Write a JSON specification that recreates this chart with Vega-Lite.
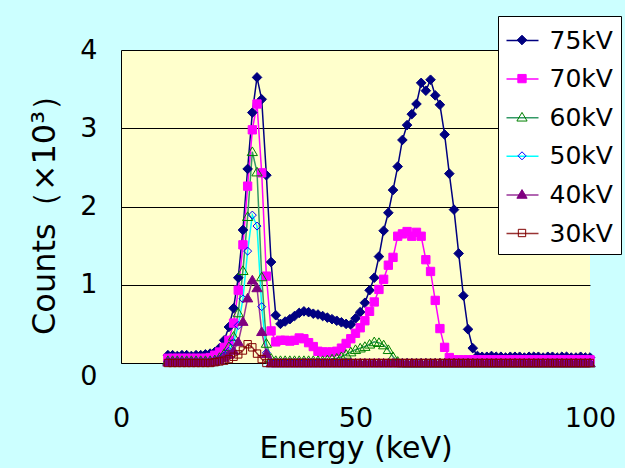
{
"$schema":"https://vega.github.io/schema/vega-lite/v6.json",
"width":469,"height":313,
"autosize":{"type":"none"},
"padding":{"left":121,"top":50,"right":35,"bottom":105},
"background":"#CCFFFF",
"config":{"view":{"fill":"#FFFFCC","stroke":null},"font":"DejaVu Sans"},
"data":{"values":[
{"e":10,"s":"75kV","c":0.10},{"e":11,"s":"75kV","c":0.10},{"e":12,"s":"75kV","c":0.09},{"e":13,"s":"75kV","c":0.10},{"e":14,"s":"75kV","c":0.10},{"e":15,"s":"75kV","c":0.09},{"e":16,"s":"75kV","c":0.10},{"e":17,"s":"75kV","c":0.10},{"e":18,"s":"75kV","c":0.11},{"e":19,"s":"75kV","c":0.12},
{"e":20,"s":"75kV","c":0.14},{"e":21,"s":"75kV","c":0.19},{"e":22,"s":"75kV","c":0.29},{"e":23,"s":"75kV","c":0.46},{"e":24,"s":"75kV","c":0.70},{"e":25,"s":"75kV","c":1.09},{"e":26,"s":"75kV","c":1.70},{"e":27,"s":"75kV","c":2.48},{"e":28,"s":"75kV","c":3.20},{"e":29,"s":"75kV","c":3.65},
{"e":30,"s":"75kV","c":3.37},{"e":31,"s":"75kV","c":2.40},{"e":32,"s":"75kV","c":1.29},{"e":33,"s":"75kV","c":0.61},{"e":34,"s":"75kV","c":0.50},{"e":35,"s":"75kV","c":0.53},{"e":36,"s":"75kV","c":0.56},{"e":37,"s":"75kV","c":0.60},{"e":38,"s":"75kV","c":0.64},{"e":39,"s":"75kV","c":0.66},
{"e":40,"s":"75kV","c":0.65},{"e":41,"s":"75kV","c":0.63},{"e":42,"s":"75kV","c":0.62},{"e":43,"s":"75kV","c":0.60},{"e":44,"s":"75kV","c":0.58},{"e":45,"s":"75kV","c":0.56},{"e":46,"s":"75kV","c":0.54},{"e":47,"s":"75kV","c":0.52},{"e":48,"s":"75kV","c":0.50},{"e":49,"s":"75kV","c":0.49},
{"e":50,"s":"75kV","c":0.57},{"e":51,"s":"75kV","c":0.65},{"e":52,"s":"75kV","c":0.77},{"e":53,"s":"75kV","c":0.93},{"e":54,"s":"75kV","c":1.09},{"e":55,"s":"75kV","c":1.36},{"e":56,"s":"75kV","c":1.69},{"e":57,"s":"75kV","c":1.92},{"e":58,"s":"75kV","c":2.21},{"e":59,"s":"75kV","c":2.51},
{"e":60,"s":"75kV","c":2.85},{"e":61,"s":"75kV","c":3.04},{"e":62,"s":"75kV","c":3.18},{"e":63,"s":"75kV","c":3.31},{"e":64,"s":"75kV","c":3.58},{"e":65,"s":"75kV","c":3.48},{"e":66,"s":"75kV","c":3.62},{"e":67,"s":"75kV","c":3.42},{"e":68,"s":"75kV","c":3.30},{"e":69,"s":"75kV","c":2.92},
{"e":70,"s":"75kV","c":2.42},{"e":71,"s":"75kV","c":1.96},{"e":72,"s":"75kV","c":1.40},{"e":73,"s":"75kV","c":0.86},{"e":74,"s":"75kV","c":0.43},{"e":75,"s":"75kV","c":0.19},{"e":76,"s":"75kV","c":0.09},{"e":77,"s":"75kV","c":0.08},{"e":78,"s":"75kV","c":0.08},{"e":79,"s":"75kV","c":0.09},
{"e":80,"s":"75kV","c":0.08},{"e":81,"s":"75kV","c":0.08},{"e":82,"s":"75kV","c":0.07},{"e":83,"s":"75kV","c":0.08},{"e":84,"s":"75kV","c":0.08},{"e":85,"s":"75kV","c":0.08},{"e":86,"s":"75kV","c":0.07},{"e":87,"s":"75kV","c":0.08},{"e":88,"s":"75kV","c":0.08},{"e":89,"s":"75kV","c":0.08},
{"e":90,"s":"75kV","c":0.07},{"e":91,"s":"75kV","c":0.08},{"e":92,"s":"75kV","c":0.08},{"e":93,"s":"75kV","c":0.07},{"e":94,"s":"75kV","c":0.08},{"e":95,"s":"75kV","c":0.08},{"e":96,"s":"75kV","c":0.07},{"e":97,"s":"75kV","c":0.07},{"e":98,"s":"75kV","c":0.08},{"e":99,"s":"75kV","c":0.07},{"e":100,"s":"75kV","c":0.07},
{"e":10,"s":"70kV","c":0.06},{"e":11,"s":"70kV","c":0.06},{"e":12,"s":"70kV","c":0.06},{"e":13,"s":"70kV","c":0.06},{"e":14,"s":"70kV","c":0.06},{"e":15,"s":"70kV","c":0.06},{"e":16,"s":"70kV","c":0.06},{"e":17,"s":"70kV","c":0.06},{"e":18,"s":"70kV","c":0.06},{"e":19,"s":"70kV","c":0.07},
{"e":20,"s":"70kV","c":0.10},{"e":21,"s":"70kV","c":0.14},{"e":22,"s":"70kV","c":0.20},{"e":23,"s":"70kV","c":0.29},{"e":24,"s":"70kV","c":0.51},{"e":25,"s":"70kV","c":0.93},{"e":26,"s":"70kV","c":1.51},{"e":27,"s":"70kV","c":2.26},{"e":28,"s":"70kV","c":2.98},{"e":29,"s":"70kV","c":3.31},
{"e":30,"s":"70kV","c":2.43},{"e":31,"s":"70kV","c":1.11},{"e":32,"s":"70kV","c":0.41},{"e":33,"s":"70kV","c":0.27},{"e":34,"s":"70kV","c":0.29},{"e":35,"s":"70kV","c":0.29},{"e":36,"s":"70kV","c":0.28},{"e":37,"s":"70kV","c":0.29},{"e":38,"s":"70kV","c":0.32},{"e":39,"s":"70kV","c":0.31},
{"e":40,"s":"70kV","c":0.26},{"e":41,"s":"70kV","c":0.21},{"e":42,"s":"70kV","c":0.15},{"e":43,"s":"70kV","c":0.14},{"e":44,"s":"70kV","c":0.14},{"e":45,"s":"70kV","c":0.14},{"e":46,"s":"70kV","c":0.15},{"e":47,"s":"70kV","c":0.19},{"e":48,"s":"70kV","c":0.25},{"e":49,"s":"70kV","c":0.31},
{"e":50,"s":"70kV","c":0.38},{"e":51,"s":"70kV","c":0.45},{"e":52,"s":"70kV","c":0.54},{"e":53,"s":"70kV","c":0.66},{"e":54,"s":"70kV","c":0.78},{"e":55,"s":"70kV","c":0.94},{"e":56,"s":"70kV","c":1.07},{"e":57,"s":"70kV","c":1.25},{"e":58,"s":"70kV","c":1.35},{"e":59,"s":"70kV","c":1.62},
{"e":60,"s":"70kV","c":1.65},{"e":61,"s":"70kV","c":1.68},{"e":62,"s":"70kV","c":1.62},{"e":63,"s":"70kV","c":1.67},{"e":64,"s":"70kV","c":1.62},{"e":65,"s":"70kV","c":1.32},{"e":66,"s":"70kV","c":1.17},{"e":67,"s":"70kV","c":0.80},{"e":68,"s":"70kV","c":0.44},{"e":69,"s":"70kV","c":0.20},
{"e":70,"s":"70kV","c":0.07},{"e":71,"s":"70kV","c":0.04},{"e":72,"s":"70kV","c":0.04},{"e":73,"s":"70kV","c":0.04},{"e":74,"s":"70kV","c":0.04},{"e":75,"s":"70kV","c":0.04},{"e":76,"s":"70kV","c":0.04},{"e":77,"s":"70kV","c":0.04},{"e":78,"s":"70kV","c":0.04},{"e":79,"s":"70kV","c":0.04},
{"e":80,"s":"70kV","c":0.04},{"e":81,"s":"70kV","c":0.04},{"e":82,"s":"70kV","c":0.04},{"e":83,"s":"70kV","c":0.04},{"e":84,"s":"70kV","c":0.04},{"e":85,"s":"70kV","c":0.04},{"e":86,"s":"70kV","c":0.04},{"e":87,"s":"70kV","c":0.04},{"e":88,"s":"70kV","c":0.04},{"e":89,"s":"70kV","c":0.04},
{"e":90,"s":"70kV","c":0.04},{"e":91,"s":"70kV","c":0.04},{"e":92,"s":"70kV","c":0.04},{"e":93,"s":"70kV","c":0.04},{"e":94,"s":"70kV","c":0.04},{"e":95,"s":"70kV","c":0.04},{"e":96,"s":"70kV","c":0.04},{"e":97,"s":"70kV","c":0.04},{"e":98,"s":"70kV","c":0.04},{"e":99,"s":"70kV","c":0.04},{"e":100,"s":"70kV","c":0.04},
{"e":10,"s":"60kV","c":0.03},{"e":11,"s":"60kV","c":0.03},{"e":12,"s":"60kV","c":0.03},{"e":13,"s":"60kV","c":0.03},{"e":14,"s":"60kV","c":0.03},{"e":15,"s":"60kV","c":0.03},{"e":16,"s":"60kV","c":0.03},{"e":17,"s":"60kV","c":0.03},{"e":18,"s":"60kV","c":0.03},{"e":19,"s":"60kV","c":0.03},
{"e":20,"s":"60kV","c":0.04},{"e":21,"s":"60kV","c":0.07},{"e":22,"s":"60kV","c":0.12},{"e":23,"s":"60kV","c":0.21},{"e":24,"s":"60kV","c":0.34},{"e":25,"s":"60kV","c":0.64},{"e":26,"s":"60kV","c":1.18},{"e":27,"s":"60kV","c":1.87},{"e":28,"s":"60kV","c":2.70},{"e":29,"s":"60kV","c":2.44},
{"e":30,"s":"60kV","c":1.10},{"e":31,"s":"60kV","c":0.25},{"e":32,"s":"60kV","c":0.06},{"e":33,"s":"60kV","c":0.03},{"e":34,"s":"60kV","c":0.03},{"e":35,"s":"60kV","c":0.03},{"e":36,"s":"60kV","c":0.03},{"e":37,"s":"60kV","c":0.03},{"e":38,"s":"60kV","c":0.03},{"e":39,"s":"60kV","c":0.03},
{"e":40,"s":"60kV","c":0.03},{"e":41,"s":"60kV","c":0.03},{"e":42,"s":"60kV","c":0.03},{"e":43,"s":"60kV","c":0.03},{"e":44,"s":"60kV","c":0.04},{"e":45,"s":"60kV","c":0.05},{"e":46,"s":"60kV","c":0.06},{"e":47,"s":"60kV","c":0.08},{"e":48,"s":"60kV","c":0.11},{"e":49,"s":"60kV","c":0.14},
{"e":50,"s":"60kV","c":0.17},{"e":51,"s":"60kV","c":0.19},{"e":52,"s":"60kV","c":0.21},{"e":53,"s":"60kV","c":0.24},{"e":54,"s":"60kV","c":0.27},{"e":55,"s":"60kV","c":0.26},{"e":56,"s":"60kV","c":0.23},{"e":57,"s":"60kV","c":0.17},{"e":58,"s":"60kV","c":0.08},{"e":59,"s":"60kV","c":0.02},
{"e":60,"s":"60kV","c":0},{"e":61,"s":"60kV","c":0},{"e":62,"s":"60kV","c":0},{"e":63,"s":"60kV","c":0},{"e":64,"s":"60kV","c":0},{"e":65,"s":"60kV","c":0},{"e":66,"s":"60kV","c":0},{"e":67,"s":"60kV","c":0},{"e":68,"s":"60kV","c":0},{"e":69,"s":"60kV","c":0},
{"e":70,"s":"60kV","c":0},{"e":71,"s":"60kV","c":0},{"e":72,"s":"60kV","c":0},{"e":73,"s":"60kV","c":0},{"e":74,"s":"60kV","c":0},{"e":75,"s":"60kV","c":0},{"e":76,"s":"60kV","c":0},{"e":77,"s":"60kV","c":0},{"e":78,"s":"60kV","c":0},{"e":79,"s":"60kV","c":0},
{"e":80,"s":"60kV","c":0},{"e":81,"s":"60kV","c":0},{"e":82,"s":"60kV","c":0},{"e":83,"s":"60kV","c":0},{"e":84,"s":"60kV","c":0},{"e":85,"s":"60kV","c":0},{"e":86,"s":"60kV","c":0},{"e":87,"s":"60kV","c":0},{"e":88,"s":"60kV","c":0},{"e":89,"s":"60kV","c":0},
{"e":90,"s":"60kV","c":0},{"e":91,"s":"60kV","c":0},{"e":92,"s":"60kV","c":0},{"e":93,"s":"60kV","c":0},{"e":94,"s":"60kV","c":0},{"e":95,"s":"60kV","c":0},{"e":96,"s":"60kV","c":0},{"e":97,"s":"60kV","c":0},{"e":98,"s":"60kV","c":0},{"e":99,"s":"60kV","c":0},{"e":100,"s":"60kV","c":0},
{"e":10,"s":"50kV","c":0.02},{"e":11,"s":"50kV","c":0.02},{"e":12,"s":"50kV","c":0.02},{"e":13,"s":"50kV","c":0.02},{"e":14,"s":"50kV","c":0.02},{"e":15,"s":"50kV","c":0.02},{"e":16,"s":"50kV","c":0.02},{"e":17,"s":"50kV","c":0.02},{"e":18,"s":"50kV","c":0.02},{"e":19,"s":"50kV","c":0.02},
{"e":20,"s":"50kV","c":0.03},{"e":21,"s":"50kV","c":0.05},{"e":22,"s":"50kV","c":0.09},{"e":23,"s":"50kV","c":0.15},{"e":24,"s":"50kV","c":0.26},{"e":25,"s":"50kV","c":0.48},{"e":26,"s":"50kV","c":0.82},{"e":27,"s":"50kV","c":1.43},{"e":28,"s":"50kV","c":1.89},{"e":29,"s":"50kV","c":1.75},
{"e":30,"s":"50kV","c":0.72},{"e":31,"s":"50kV","c":0.13},{"e":32,"s":"50kV","c":0.01},{"e":33,"s":"50kV","c":0.01},{"e":34,"s":"50kV","c":0.01},{"e":35,"s":"50kV","c":0.01},{"e":36,"s":"50kV","c":0.01},{"e":37,"s":"50kV","c":0.01},{"e":38,"s":"50kV","c":0.01},{"e":39,"s":"50kV","c":0.01},
{"e":40,"s":"50kV","c":0.01},{"e":41,"s":"50kV","c":0.01},{"e":42,"s":"50kV","c":0.01},{"e":43,"s":"50kV","c":0.01},{"e":44,"s":"50kV","c":0.01},{"e":45,"s":"50kV","c":0.01},{"e":46,"s":"50kV","c":0.01},{"e":47,"s":"50kV","c":0.01},{"e":48,"s":"50kV","c":0.01},{"e":49,"s":"50kV","c":0.01},
{"e":50,"s":"50kV","c":0},{"e":51,"s":"50kV","c":0},{"e":52,"s":"50kV","c":0},{"e":53,"s":"50kV","c":0},{"e":54,"s":"50kV","c":0},{"e":55,"s":"50kV","c":0},{"e":56,"s":"50kV","c":0},{"e":57,"s":"50kV","c":0},{"e":58,"s":"50kV","c":0},{"e":59,"s":"50kV","c":0},
{"e":60,"s":"50kV","c":0},{"e":61,"s":"50kV","c":0},{"e":62,"s":"50kV","c":0},{"e":63,"s":"50kV","c":0},{"e":64,"s":"50kV","c":0},{"e":65,"s":"50kV","c":0},{"e":66,"s":"50kV","c":0},{"e":67,"s":"50kV","c":0},{"e":68,"s":"50kV","c":0},{"e":69,"s":"50kV","c":0},
{"e":70,"s":"50kV","c":0},{"e":71,"s":"50kV","c":0},{"e":72,"s":"50kV","c":0},{"e":73,"s":"50kV","c":0},{"e":74,"s":"50kV","c":0},{"e":75,"s":"50kV","c":0},{"e":76,"s":"50kV","c":0},{"e":77,"s":"50kV","c":0},{"e":78,"s":"50kV","c":0},{"e":79,"s":"50kV","c":0},
{"e":80,"s":"50kV","c":0},{"e":81,"s":"50kV","c":0},{"e":82,"s":"50kV","c":0},{"e":83,"s":"50kV","c":0},{"e":84,"s":"50kV","c":0},{"e":85,"s":"50kV","c":0},{"e":86,"s":"50kV","c":0},{"e":87,"s":"50kV","c":0},{"e":88,"s":"50kV","c":0},{"e":89,"s":"50kV","c":0},
{"e":90,"s":"50kV","c":0},{"e":91,"s":"50kV","c":0},{"e":92,"s":"50kV","c":0},{"e":93,"s":"50kV","c":0},{"e":94,"s":"50kV","c":0},{"e":95,"s":"50kV","c":0},{"e":96,"s":"50kV","c":0},{"e":97,"s":"50kV","c":0},{"e":98,"s":"50kV","c":0},{"e":99,"s":"50kV","c":0},{"e":100,"s":"50kV","c":0},
{"e":10,"s":"40kV","c":0.01},{"e":11,"s":"40kV","c":0.01},{"e":12,"s":"40kV","c":0.01},{"e":13,"s":"40kV","c":0.01},{"e":14,"s":"40kV","c":0.01},{"e":15,"s":"40kV","c":0.01},{"e":16,"s":"40kV","c":0.01},{"e":17,"s":"40kV","c":0.01},{"e":18,"s":"40kV","c":0.01},{"e":19,"s":"40kV","c":0.01},
{"e":20,"s":"40kV","c":0.02},{"e":21,"s":"40kV","c":0.04},{"e":22,"s":"40kV","c":0.07},{"e":23,"s":"40kV","c":0.11},{"e":24,"s":"40kV","c":0.16},{"e":25,"s":"40kV","c":0.27},{"e":26,"s":"40kV","c":0.53},{"e":27,"s":"40kV","c":0.83},{"e":28,"s":"40kV","c":1.06},{"e":29,"s":"40kV","c":0.96},
{"e":30,"s":"40kV","c":0.40},{"e":31,"s":"40kV","c":0.12},{"e":32,"s":"40kV","c":0},{"e":33,"s":"40kV","c":0},{"e":34,"s":"40kV","c":0},{"e":35,"s":"40kV","c":0},{"e":36,"s":"40kV","c":0},{"e":37,"s":"40kV","c":0},{"e":38,"s":"40kV","c":0},{"e":39,"s":"40kV","c":0},
{"e":40,"s":"40kV","c":0},{"e":41,"s":"40kV","c":0},{"e":42,"s":"40kV","c":0},{"e":43,"s":"40kV","c":0},{"e":44,"s":"40kV","c":0},{"e":45,"s":"40kV","c":0},{"e":46,"s":"40kV","c":0},{"e":47,"s":"40kV","c":0},{"e":48,"s":"40kV","c":0},{"e":49,"s":"40kV","c":0},
{"e":50,"s":"40kV","c":0},{"e":51,"s":"40kV","c":0},{"e":52,"s":"40kV","c":0},{"e":53,"s":"40kV","c":0},{"e":54,"s":"40kV","c":0},{"e":55,"s":"40kV","c":0},{"e":56,"s":"40kV","c":0},{"e":57,"s":"40kV","c":0},{"e":58,"s":"40kV","c":0},{"e":59,"s":"40kV","c":0},
{"e":60,"s":"40kV","c":0},{"e":61,"s":"40kV","c":0},{"e":62,"s":"40kV","c":0},{"e":63,"s":"40kV","c":0},{"e":64,"s":"40kV","c":0},{"e":65,"s":"40kV","c":0},{"e":66,"s":"40kV","c":0},{"e":67,"s":"40kV","c":0},{"e":68,"s":"40kV","c":0},{"e":69,"s":"40kV","c":0},
{"e":70,"s":"40kV","c":0},{"e":71,"s":"40kV","c":0},{"e":72,"s":"40kV","c":0},{"e":73,"s":"40kV","c":0},{"e":74,"s":"40kV","c":0},{"e":75,"s":"40kV","c":0},{"e":76,"s":"40kV","c":0},{"e":77,"s":"40kV","c":0},{"e":78,"s":"40kV","c":0},{"e":79,"s":"40kV","c":0},
{"e":80,"s":"40kV","c":0},{"e":81,"s":"40kV","c":0},{"e":82,"s":"40kV","c":0},{"e":83,"s":"40kV","c":0},{"e":84,"s":"40kV","c":0},{"e":85,"s":"40kV","c":0},{"e":86,"s":"40kV","c":0},{"e":87,"s":"40kV","c":0},{"e":88,"s":"40kV","c":0},{"e":89,"s":"40kV","c":0},
{"e":90,"s":"40kV","c":0},{"e":91,"s":"40kV","c":0},{"e":92,"s":"40kV","c":0},{"e":93,"s":"40kV","c":0},{"e":94,"s":"40kV","c":0},{"e":95,"s":"40kV","c":0},{"e":96,"s":"40kV","c":0},{"e":97,"s":"40kV","c":0},{"e":98,"s":"40kV","c":0},{"e":99,"s":"40kV","c":0},{"e":100,"s":"40kV","c":0},
{"e":10,"s":"30kV","c":0},{"e":11,"s":"30kV","c":0},{"e":12,"s":"30kV","c":0},{"e":13,"s":"30kV","c":0},{"e":14,"s":"30kV","c":0},{"e":15,"s":"30kV","c":0},{"e":16,"s":"30kV","c":0},{"e":17,"s":"30kV","c":0},{"e":18,"s":"30kV","c":0},{"e":19,"s":"30kV","c":0},
{"e":20,"s":"30kV","c":0.01},{"e":21,"s":"30kV","c":0.02},{"e":22,"s":"30kV","c":0.03},{"e":23,"s":"30kV","c":0.05},{"e":24,"s":"30kV","c":0.08},{"e":25,"s":"30kV","c":0.11},{"e":26,"s":"30kV","c":0.16},{"e":27,"s":"30kV","c":0.24},{"e":28,"s":"30kV","c":0.20},{"e":29,"s":"30kV","c":0.12},
{"e":30,"s":"30kV","c":0.05},{"e":31,"s":"30kV","c":0},{"e":32,"s":"30kV","c":0},{"e":33,"s":"30kV","c":0},{"e":34,"s":"30kV","c":0},{"e":35,"s":"30kV","c":0},{"e":36,"s":"30kV","c":0},{"e":37,"s":"30kV","c":0},{"e":38,"s":"30kV","c":0},{"e":39,"s":"30kV","c":0},
{"e":40,"s":"30kV","c":0},{"e":41,"s":"30kV","c":0},{"e":42,"s":"30kV","c":0},{"e":43,"s":"30kV","c":0},{"e":44,"s":"30kV","c":0},{"e":45,"s":"30kV","c":0},{"e":46,"s":"30kV","c":0},{"e":47,"s":"30kV","c":0},{"e":48,"s":"30kV","c":0},{"e":49,"s":"30kV","c":0},
{"e":50,"s":"30kV","c":0},{"e":51,"s":"30kV","c":0},{"e":52,"s":"30kV","c":0},{"e":53,"s":"30kV","c":0},{"e":54,"s":"30kV","c":0},{"e":55,"s":"30kV","c":0},{"e":56,"s":"30kV","c":0},{"e":57,"s":"30kV","c":0},{"e":58,"s":"30kV","c":0},{"e":59,"s":"30kV","c":0},
{"e":60,"s":"30kV","c":0},{"e":61,"s":"30kV","c":0},{"e":62,"s":"30kV","c":0},{"e":63,"s":"30kV","c":0},{"e":64,"s":"30kV","c":0},{"e":65,"s":"30kV","c":0},{"e":66,"s":"30kV","c":0},{"e":67,"s":"30kV","c":0},{"e":68,"s":"30kV","c":0},{"e":69,"s":"30kV","c":0},
{"e":70,"s":"30kV","c":0},{"e":71,"s":"30kV","c":0},{"e":72,"s":"30kV","c":0},{"e":73,"s":"30kV","c":0},{"e":74,"s":"30kV","c":0},{"e":75,"s":"30kV","c":0},{"e":76,"s":"30kV","c":0},{"e":77,"s":"30kV","c":0},{"e":78,"s":"30kV","c":0},{"e":79,"s":"30kV","c":0},
{"e":80,"s":"30kV","c":0},{"e":81,"s":"30kV","c":0},{"e":82,"s":"30kV","c":0},{"e":83,"s":"30kV","c":0},{"e":84,"s":"30kV","c":0},{"e":85,"s":"30kV","c":0},{"e":86,"s":"30kV","c":0},{"e":87,"s":"30kV","c":0},{"e":88,"s":"30kV","c":0},{"e":89,"s":"30kV","c":0},
{"e":90,"s":"30kV","c":0},{"e":91,"s":"30kV","c":0},{"e":92,"s":"30kV","c":0},{"e":93,"s":"30kV","c":0},{"e":94,"s":"30kV","c":0},{"e":95,"s":"30kV","c":0},{"e":96,"s":"30kV","c":0},{"e":97,"s":"30kV","c":0},{"e":98,"s":"30kV","c":0},{"e":99,"s":"30kV","c":0},{"e":100,"s":"30kV","c":0}
]},
"encoding":{
"x":{"field":"e","type":"quantitative","scale":{"domain":[0,100],"nice":false,"zero":false},
 "axis":{"values":[0,50,100],"title":"Energy (keV)","grid":false,"ticks":false,"tickSize":0,"labelFontSize":27,"labelPadding":42,"labelColor":"black","labelFlush":false,"labelOverlap":false,"domainColor":"black","domainWidth":1,"titleFontSize":30,"titleFontWeight":"normal","titleColor":"black","titleY":94,"titleBaseline":"alphabetic"}},
"y":{"field":"c","type":"quantitative","scale":{"domain":[0,4],"nice":false},
 "axis":{"values":[0,1,2,3,4],"title":"Counts（×10³）","grid":true,"gridColor":"black","gridWidth":1,"gridOpacity":1,"ticks":false,"tickSize":0,"labelFontSize":27,"labelPadding":24,"labelColor":"black","labelFlush":false,"labelOverlap":false,"domainColor":"black","domainWidth":1,"titleFontSize":32,"titleFontWeight":"normal","titleColor":"black","titleX":-67,"titleBaseline":"alphabetic",
  "labelBaseline":{"condition":{"test":"datum.value == 0","value":"top"},"value":"middle"}}}
},
"layer":[
{"mark":{"type":"line","strokeWidth":1.5},
 "encoding":{"color":{"field":"s","type":"nominal",
  "scale":{"domain":["30kV","40kV","50kV","60kV","70kV","75kV"],"range":["#993333","#993399","#00FFFF","#339966","#FF00FF","#000080"]},
  "legend":{"orient":"none","legendX":377,"legendY":-34,"values":["75kV","70kV","60kV","50kV","40kV","30kV"],"title":null,"symbolType":"stroke","symbolSize":1024,"symbolStrokeWidth":1.5,"labelFontSize":25,"labelFont":"DejaVu Sans","labelColor":"black","labelOffset":10,"labelLimit":200,"rowPadding":8.6,"padding":7.5,"fillColor":"white","strokeColor":"black","cornerRadius":0}}}},
{"mark":{"type":"point","size":1024,"strokeWidth":1,"opacity":1,"fillOpacity":1},
 "encoding":{
  "shape":{"field":"s","type":"nominal","scale":{"domain":["75kV","70kV","60kV","50kV","40kV","30kV"],"range":["M0,-0.3L0.3,0L0,0.3L-0.3,0Z","M-0.26,-0.26H0.26V0.26H-0.26Z","M0,-0.3L0.32,0.24L-0.32,0.24Z","M0,-0.25L0.25,0L0,0.25L-0.25,0Z","M0,-0.3L0.32,0.24L-0.32,0.24Z","M-0.23,-0.23H0.23V0.23H-0.23Z"]},
   "legend":{"orient":"none","legendX":377,"legendY":-34,"title":null,"symbolSize":1024,"symbolStrokeWidth":1,"labelFontSize":25,"labelFont":"DejaVu Sans","labelOpacity":0,"labelOffset":10,"labelLimit":200,"rowPadding":8.6,"padding":7.5,"zindex":1,
    "encode":{"symbols":{"update":{"fill":{"signal":"datum.value == '75kV' ? '#000080' : datum.value == '70kV' ? '#FF00FF' : datum.value == '40kV' ? '#800080' : 'white'"}}}}}},
  "fill":{"field":"s","type":"nominal","scale":{"domain":["75kV","70kV","60kV","50kV","40kV","30kV"],"range":["#000080","#FF00FF","transparent","transparent","#800080","transparent"]},
   "legend":{"orient":"none","legendX":377,"legendY":-34,"title":null,"symbolSize":1024,"symbolStrokeWidth":1,"labelFontSize":25,"labelFont":"DejaVu Sans","labelOpacity":0,"labelOffset":10,"labelLimit":200,"rowPadding":8.6,"padding":7.5,"zindex":1,
    "encode":{"symbols":{"update":{"fill":{"signal":"datum.value == '75kV' ? '#000080' : datum.value == '70kV' ? '#FF00FF' : datum.value == '40kV' ? '#800080' : 'white'"}}}}}},
  "stroke":{"field":"s","type":"nominal","scale":{"domain":["75kV","70kV","60kV","50kV","40kV","30kV"],"range":["#000080","#FF00FF","#008000","#0000FF","#800080","#800000"]},
   "legend":{"orient":"none","legendX":377,"legendY":-34,"title":null,"symbolSize":1024,"symbolStrokeWidth":1,"labelFontSize":25,"labelFont":"DejaVu Sans","labelOpacity":0,"labelOffset":10,"labelLimit":200,"rowPadding":8.6,"padding":7.5,"zindex":1,
    "encode":{"symbols":{"update":{"fill":{"signal":"datum.value == '75kV' ? '#000080' : datum.value == '70kV' ? '#FF00FF' : datum.value == '40kV' ? '#800080' : 'white'"}}}}}}
 }}
]
}
